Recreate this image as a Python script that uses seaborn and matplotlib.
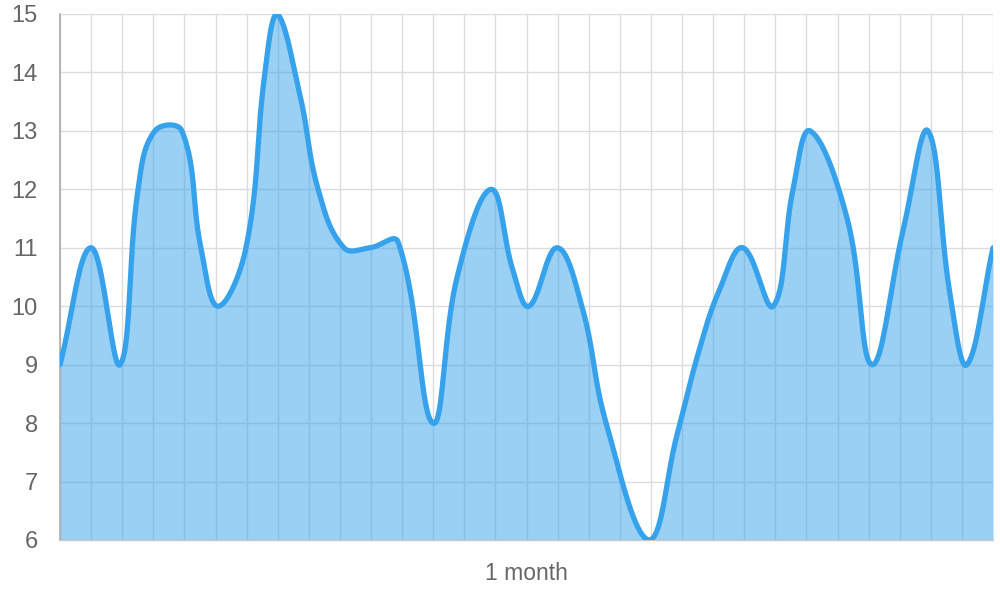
"""
Area chart - smooth line with fill down to the axis floor
"""

import numpy as np
import pandas as pd
import seaborn as sns
import matplotlib.pyplot as plt

sns.set_style('white')
plt.rcParams['font.family'] = ['Liberation Sans', 'DejaVu Sans']

# Data (x in days across the month, y values)

days = [0, 1.0, 1.93, 2.51, 3.05, 3.92, 4.53, 5.08, 5.98, 6.59, 6.98,
        7.72, 8.30, 9.13, 9.97, 10.87, 11.99, 12.77, 13.86, 14.57, 15.08,
        15.98, 16.78, 17.56, 18.94, 19.84, 20.58, 21.22, 21.96, 22.93,
        23.57, 24.12, 25.31, 26.11, 27.11, 27.91, 28.62, 29.16, 30]
values = [9, 11, 9, 12, 13, 13, 11, 10, 11, 14, 15,
          13.6, 12, 11, 11, 11.1, 8, 10.5, 12, 10.6, 10,
          11, 10.0, 8.0, 6, 7.8, 9.3, 10.3, 11, 10,
          12, 13, 11.5, 9, 11.3, 13, 10.2, 9, 11]
y_ticks = [6, 7, 8, 9, 10, 11, 12, 13, 14, 15]
x_label = '1 month'

blue = '#36a2eb'
grey_text = '#666666'
grid_grey = '#dcdcdc'

# Figure

fig = plt.figure(figsize=(10, 6), dpi=100)
ax = fig.add_axes([60 / 1000, 60 / 600, 933 / 1000, 526 / 600])
ax.set_xlim(0, 30)
ax.set_ylim(6, 15)


def spline(xs, ys, t=0.4, steps=40):
    # bezier spline through the points, control points in pixel space
    pts = ax.transData.transform(np.column_stack([xs, ys]))
    x0, y0 = ax.transData.transform((0, 6))
    x1, y1 = ax.transData.transform((30, 15))
    n = len(pts)
    cp_prev = np.zeros_like(pts)
    cp_next = np.zeros_like(pts)
    for i in range(n):
        p = pts[max(i - 1, 0)]
        c = pts[i]
        nx = pts[min(i + 1, n - 1)]
        d01 = np.hypot(*(c - p))
        d12 = np.hypot(*(nx - c))
        s = d01 + d12
        s01 = d01 / s if s else 0
        s12 = d12 / s if s else 0
        cp_prev[i] = c - t * s01 * (nx - p)
        cp_next[i] = c + t * s12 * (nx - p)
    for cp in (cp_prev, cp_next):
        cp[:, 0] = np.clip(cp[:, 0], x0, x1)
        cp[:, 1] = np.clip(cp[:, 1], y0, y1)
    u = np.linspace(0, 1, steps)[:, None]
    out = [pts[:1]]
    for i in range(n - 1):
        a, b, c, d = pts[i], cp_next[i], cp_prev[i + 1], pts[i + 1]
        seg = ((1 - u) ** 3) * a + 3 * ((1 - u) ** 2) * u * b + 3 * (1 - u) * u ** 2 * c + u ** 3 * d
        out.append(seg[1:])
    curve = ax.transData.inverted().transform(np.vstack(out))
    return curve[:, 0], curve[:, 1]


cx, cy = spline(days, values)
dfCurve = pd.DataFrame({'day': cx, 'value': cy})

# Grid below the fill

ax.set_axisbelow(True)
ax.set_xticks(np.arange(0, 31))
ax.set_yticks(y_ticks)
ax.grid(True, color=grid_grey, linewidth=1.0)

ax.fill_between(dfCurve['day'], dfCurve['value'], 6, color=blue, alpha=0.5,
                linewidth=0, zorder=2)
sns.lineplot(x='day', y='value', data=dfCurve, sort=False, color=blue,
             linewidth=3.8, ax=ax, zorder=3)

# Axes formatting

ax.set_xticklabels([])
ax.set_yticklabels([str(v) for v in y_ticks])
ax.tick_params(axis='x', length=13, width=1.0, color=grid_grey, direction='out')
ax.tick_params(axis='y', length=14, width=1.0, color=grid_grey, direction='out',
               pad=2, labelsize=17, labelcolor=grey_text)
ax.set_xlabel('')
ax.set_ylabel('')
for side in ['top', 'right']:
    ax.spines[side].set_visible(False)
ax.spines['left'].set_color('#aaaaaa')
ax.spines['left'].set_linewidth(1.2)
ax.spines['bottom'].set_color('#c8c8c8')
ax.spines['bottom'].set_linewidth(1.0)

ax.text(0.5, -(574 - 540) / 526, x_label, transform=ax.transAxes,
        ha='center', va='center', fontsize=16.5, color=grey_text)

plt.savefig('out.png', dpi=100)
